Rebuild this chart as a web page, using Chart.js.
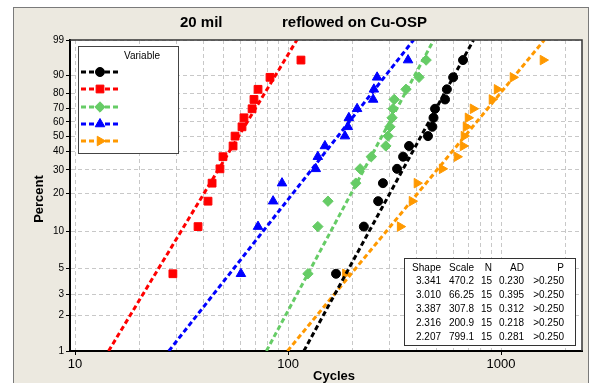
<!DOCTYPE html>
<html>
<head>
<meta charset="utf-8">
<script src="https://cdn.jsdelivr.net/npm/chart.js@4.4.1/dist/chart.umd.min.js"></script>
<style>
  html, body { margin: 0; padding: 0; background: #fff; }
  #wrap { width: 592px; height: 383px; position: relative; }
</style>
</head>
<body>
<div id="wrap"><canvas id="myChart" width="592" height="383"></canvas></div>
<script>
// Prozent-Positionen der 15 Punkte je Serie (y-Achse)
const percents = [4.5, 11.0, 17.5, 24.0, 30.5, 37.0, 43.5, 50.0, 56.5, 63.0, 69.5, 76.0, 82.5, 89.0, 95.5];

// Zyklen je Serie
const blackCycles  = [168, 227, 265, 279, 325, 347, 370, 454, 476, 482, 490, 546, 557, 596, 663];
const redCycles    = [28.8, 37.8, 42.1, 44.0, 47.9, 49.5, 55.2, 56.4, 60.8, 62.1, 67.8, 69.2, 72.3, 82.3, 115];
const greenCycles  = [124, 138, 154, 208, 218, 246, 288, 295, 301, 308, 311, 315, 358, 412, 445];
const blueCycles   = [60.1, 72.3, 85.1, 93.7, 135, 138, 149, 185, 191, 193, 211, 251, 253, 262, 366];
const orangeCycles = [186, 336, 382, 403, 529, 621, 663, 670, 685, 700, 739, 907, 958, 1138, 1574];

// Tabelle rechts unten
const shapes   = [3.341, 3.010, 3.387, 2.316, 2.207];
const scales   = [470.2, 66.25, 307.8, 200.9, 799.1];
const nValues  = [15, 15, 15, 15, 15];
const adValues = [0.230, 0.395, 0.312, 0.218, 0.281];
const pValues  = ['>0.250', '>0.250', '>0.250', '>0.250', '>0.250'];

// Achsenbeschriftungen
const yTickVals = [1, 2, 3, 5, 10, 20, 30, 40, 50, 60, 70, 80, 90, 99];
const xTickVals = [10, 20, 30, 40, 50, 60, 70, 80, 90, 100, 200, 300, 400, 500, 600, 700, 800, 900, 1000, 2000];
const xLabelVals = [10, 100, 1000];

const seriesCycles = [blackCycles, redCycles, greenCycles, blueCycles, orangeCycles];
const colors = ['#000000', '#ff0000', '#66cc66', '#0000ff', '#ff9900'];
const pointStyles = ['circle', 'rect', 'rectRot', 'triangle', 'triangle'];
const rotations = [0, 0, 0, 0, 90];
const radii = [4.5, 5.5, 5.2, 5.5, 5.5];

const fontFam = '"Liberation Sans", Arial, sans-serif';

// Weibull-Skala für die Prozentachse
function wb(p) {
  return Math.log(-Math.log(1 - p / 100));
}

// x-Wert der Fitgeraden bei p Prozent
function fitX(shape, scale, p) {
  return scale * Math.pow(-Math.log(1 - p / 100), 1 / shape);
}

let datasets = [];
for (let s = 0; s < 5; s++) {
  datasets.push({
    label: 'fit' + s,
    data: [
      { x: fitX(shapes[s], scales[s], 1), y: wb(1) },
      { x: fitX(shapes[s], scales[s], 99), y: wb(99) }
    ],
    showLine: true,
    borderColor: colors[s],
    borderWidth: 3,
    borderDash: [5, 3],
    pointRadius: 0
  });
  datasets.push({
    label: 'pts' + s,
    data: seriesCycles[s].map((c, i) => ({ x: c, y: wb(percents[i]) })),
    showLine: false,
    backgroundColor: colors[s],
    borderColor: colors[s],
    borderWidth: 1,
    pointStyle: pointStyles[s],
    rotation: rotations[s],
    pointRadius: radii[s]
  });
}

const decoPlugin = {
  id: 'deco',
  beforeDraw(chart) {
    const c = chart.ctx;
    const a = chart.chartArea;
    c.save();
    c.fillStyle = '#ffffff';
    c.fillRect(0, 0, chart.width, chart.height);
    c.fillStyle = '#ece9e0';
    c.fillRect(13, 7, 575, 380);
    c.strokeStyle = '#7a7a7a';
    c.lineWidth = 1;
    c.strokeRect(13.5, 7.5, 575, 380);
    c.fillStyle = '#ffffff';
    c.fillRect(a.left, a.top, a.right - a.left, a.bottom - a.top);
    c.restore();
  },
  afterDraw(chart) {
    const c = chart.ctx;
    const a = chart.chartArea;
    c.save();
    // Rahmen oben/rechts
    c.strokeStyle = '#333';
    c.lineWidth = 1.5;
    c.beginPath();
    c.moveTo(a.left, a.top);
    c.lineTo(a.right, a.top);
    c.lineTo(a.right, a.bottom);
    c.stroke();

    // Titel
    c.fillStyle = '#000';
    c.font = 'bold 15px ' + fontFam;
    c.textBaseline = 'middle';
    c.textAlign = 'left';
    c.fillText('20 mil', 180, 23);
    c.fillText('reflowed on Cu-OSP', 282, 23);

    // Achsentitel
    c.font = 'bold 13px ' + fontFam;
    c.textAlign = 'center';
    c.fillText('Cycles', 334, 376);
    c.save();
    c.translate(39, 199);
    c.rotate(-Math.PI / 2);
    c.fillText('Percent', 0, 0);
    c.restore();

    // Legende
    c.fillStyle = '#fff';
    c.fillRect(78, 46, 100, 107);
    c.strokeStyle = '#444';
    c.lineWidth = 1;
    c.strokeRect(78.5, 46.5, 100, 107);
    c.fillStyle = '#000';
    c.font = '10px ' + fontFam;
    c.textAlign = 'center';
    c.fillText('Variable', 142, 56);
    const legY = [72, 89, 107, 124, 141];
    for (let s = 0; s < 5; s++) {
      c.strokeStyle = colors[s];
      c.lineWidth = 3;
      c.setLineDash([5, 3]);
      c.beginPath();
      c.moveTo(81, legY[s]);
      c.lineTo(120, legY[s]);
      c.stroke();
      c.setLineDash([]);
      c.fillStyle = colors[s];
      c.strokeStyle = colors[s];
      c.lineWidth = 1;
      Chart.helpers.drawPoint(c, {
        pointStyle: pointStyles[s],
        rotation: rotations[s],
        radius: radii[s],
        borderWidth: 1
      }, 100, legY[s]);
    }

    // Tabelle
    c.fillStyle = '#fff';
    c.fillRect(404, 258, 171, 87);
    c.strokeStyle = '#333';
    c.lineWidth = 1;
    c.strokeRect(404.5, 258.5, 171, 87);
    c.fillStyle = '#000';
    c.font = '10px ' + fontFam;
    c.textAlign = 'right';
    const colX = [441, 474, 492, 524, 564];
    const headers = ['Shape', 'Scale', 'N', 'AD', 'P'];
    headers.forEach((h, k) => c.fillText(h, colX[k], 268));
    for (let s = 0; s < 5; s++) {
      const y = 281.5 + s * 14;
      c.fillText(shapes[s].toFixed(3), colX[0], y);
      c.fillText(scales[s].toPrecision(4), colX[1], y);
      c.fillText(String(nValues[s]), colX[2], y);
      c.fillText(adValues[s].toFixed(3), colX[3], y);
      c.fillText(pValues[s], colX[4], y);
    }
    c.restore();
  }
};

new Chart(document.getElementById('myChart'), {
  type: 'scatter',
  data: { datasets: datasets },
  options: {
    responsive: false,
    animation: false,
    events: [],
    layout: { padding: { left: 0, top: 40, right: 10, bottom: 0 } },
    plugins: {
      legend: { display: false },
      tooltip: { enabled: false }
    },
    scales: {
      x: {
        type: 'logarithmic',
        min: 9.47,
        max: 2400,
        afterBuildTicks: (scale) => {
          scale.ticks = xTickVals.map(v => ({ value: v }));
        },
        afterFit: (scale) => { scale.height = 32; },
        ticks: {
          autoSkip: false,
          maxRotation: 0,
          padding: 2,
          color: '#000',
          font: { family: fontFam, size: 13 },
          callback: (v) => xLabelVals.includes(v) ? String(v) : ''
        },
        grid: {
          color: '#c8c8c8',
          lineWidth: 1,
          tickLength: 4,
          tickBorderDash: [],
          tickColor: (ctx) => (ctx.tick && xLabelVals.includes(ctx.tick.value)) ? '#000' : 'rgba(0,0,0,0)'
        },
        border: { color: '#000', width: 2, dash: [4, 3] }
      },
      y: {
        type: 'linear',
        min: wb(1),
        max: wb(99),
        afterBuildTicks: (scale) => {
          scale.ticks = yTickVals.map(p => ({ value: wb(p) }));
        },
        afterFit: (scale) => { scale.width = 70; },
        ticks: {
          autoSkip: false,
          padding: 2,
          color: '#000',
          font: { family: fontFam, size: 10 },
          callback: (v, i) => String(yTickVals[i])
        },
        grid: {
          color: '#c8c8c8',
          lineWidth: 1,
          tickLength: 4,
          tickBorderDash: [],
          tickColor: '#000'
        },
        border: { color: '#000', width: 2, dash: [4, 3] }
      }
    }
  },
  plugins: [decoPlugin]
});
</script>
</body>
</html>
